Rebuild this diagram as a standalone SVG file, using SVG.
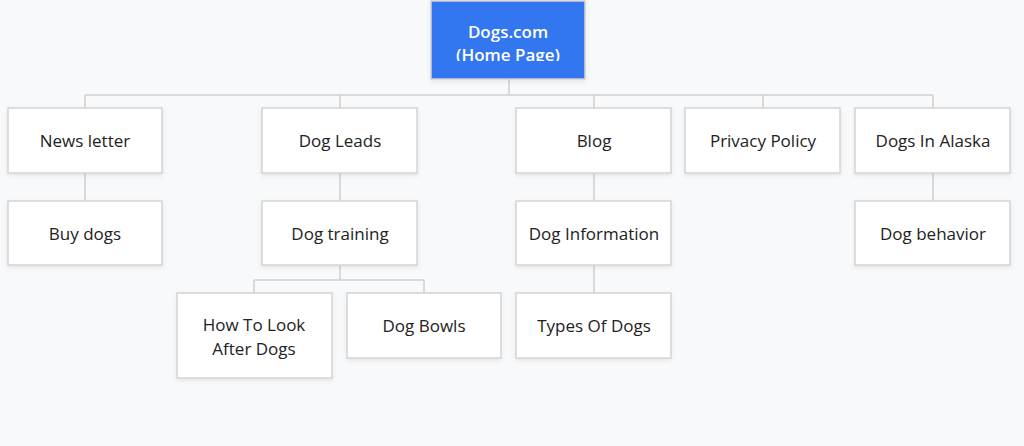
<svg xmlns="http://www.w3.org/2000/svg" width="1024" height="446" viewBox="0 0 1024 446">
<style>
.b{fill:#fff;stroke:#d4d4d4;stroke-width:1.5}
.t{font-family:"Open Sans",sans-serif;font-size:17px;fill:#222;text-anchor:middle}
.c{fill:none;stroke:#cfcfcf;stroke-width:1.5}
</style>
<defs>
<filter id="s" x="-10%" y="-10%" width="130%" height="140%"><feDropShadow dx="0" dy="2" stdDeviation="2" flood-opacity="0.08"/></filter>
<clipPath id="rc"><rect x="431" y="1" width="154" height="60"/></clipPath>
</defs>
<rect width="1024" height="446" fill="#f8f9fb"/>
<g id="connectors" class="c">
<path d="M509 79V95M85 95H933M85 95V108M340 95V108M594 95V108M763 95V108M933 95V108"/>
<path d="M85 173V201M340 173V201M594 173V201M933 173V201"/>
<path d="M340 265V280M254 280H424M254 280V293M424 280V293M594 265V293"/>
</g>
<g id="root"><rect x="431" y="1" width="154" height="78" fill="#3176f0" stroke="#d4d4d4" stroke-width="1.5" filter="url(#s)"/>
<g clip-path="url(#rc)"><text class="t" x="508" y="38" fill="#fff" style="fill:#fff;font-weight:600">Dogs.com</text><text class="t" x="508" y="61" style="fill:#fff;font-weight:600">(Home Page)</text></g></g>
<g id="n1"><rect class="b" filter="url(#s)" x="8" y="108" width="154" height="65"/><text class="t" x="85" y="147">News letter</text></g>
<g id="n2"><rect class="b" filter="url(#s)" x="262" y="108" width="155" height="65"/><text class="t" x="340" y="147">Dog Leads</text></g>
<g id="n3"><rect class="b" filter="url(#s)" x="516" y="108" width="155" height="65"/><text class="t" x="594" y="147">Blog</text></g>
<g id="n4"><rect class="b" filter="url(#s)" x="685" y="108" width="155" height="65"/><text class="t" x="763" y="147">Privacy Policy</text></g>
<g id="n5"><rect class="b" filter="url(#s)" x="855" y="108" width="155" height="65"/><text class="t" x="933" y="147">Dogs In Alaska</text></g>
<g id="n6"><rect class="b" filter="url(#s)" x="8" y="201" width="154" height="64"/><text class="t" x="85" y="240">Buy dogs</text></g>
<g id="n7"><rect class="b" filter="url(#s)" x="262" y="201" width="155" height="64"/><text class="t" x="340" y="240">Dog training</text></g>
<g id="n8"><rect class="b" filter="url(#s)" x="516" y="201" width="155" height="64"/><text class="t" x="594" y="240">Dog Information</text></g>
<g id="n9"><rect class="b" filter="url(#s)" x="855" y="201" width="155" height="64"/><text class="t" x="933" y="240">Dog behavior</text></g>
<g id="n10"><rect class="b" filter="url(#s)" x="177" y="293" width="155" height="85"/><text class="t" x="254" y="331">How To Look</text><text class="t" x="254" y="355">After Dogs</text></g>
<g id="n11"><rect class="b" filter="url(#s)" x="347" y="293" width="154" height="65"/><text class="t" x="424" y="332">Dog Bowls</text></g>
<g id="n12"><rect class="b" filter="url(#s)" x="516" y="293" width="155" height="65"/><text class="t" x="594" y="332">Types Of Dogs</text></g>
</svg>
